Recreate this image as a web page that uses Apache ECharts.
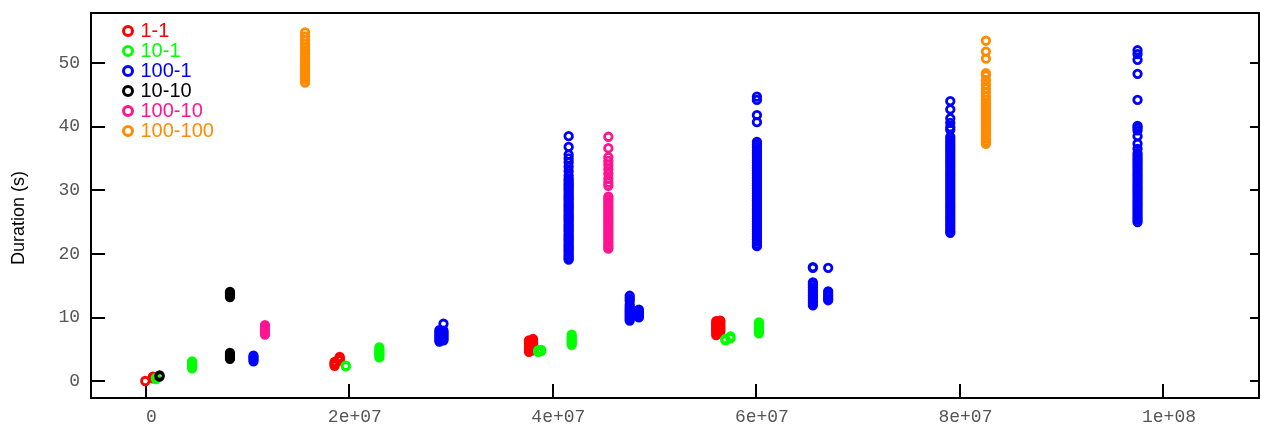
<!DOCTYPE html>
<html>
<head>
<meta charset="utf-8">
<script src="https://cdn.jsdelivr.net/npm/echarts@6/dist/echarts.min.js"></script>
<style>
  html, body { margin: 0; padding: 0; background: #fff; }
  #chart { width: 1261px; height: 432px; }
</style>
</head>
<body>
<div id="chart"></div>
<script>
// Run durations (seconds) per configuration, grouped by input size.
const seriesNames = ['1-1', '10-1', '100-1', '10-10', '100-10', '100-100'];
const seriesColors = ['#ff0000', '#00ff00', '#0000ff', '#000000', '#ff1493', '#ff8c00'];

const runs_1_1 = [
  { x: 0, y: [0.0] },
  { x: 7.5e5, y: [0.4, 0.6, 0.7] },
  { x: 1.86e7, y: [2.4, 2.6, 2.8, 3.0] },
  { x: 1.91e7, y: [3.2, 3.4, 3.6, 3.8] },
  { x: 3.77e7, y: [4.6, 4.9, 5.2, 5.5, 5.8, 6.1, 6.4] },
  { x: 3.81e7, y: [4.8, 5.1, 5.4, 5.7, 6.0, 6.3, 6.6] },
  { x: 5.61e7, y: [7.2, 7.6, 7.9, 8.2, 8.5, 8.8, 9.1, 9.4] },
  { x: 5.65e7, y: [7.8, 8.1, 8.4, 8.7, 9.0, 9.3, 9.5] }
];

const runs_10_1 = [
  { x: 1.05e6, y: [0.3, 0.5] },
  { x: 4.6e6, y: [2.0, 2.3, 2.6, 2.9, 3.1] },
  { x: 1.97e7, y: [2.3, 2.4] },
  { x: 2.3e7, y: [3.7, 4.0, 4.3, 4.6, 4.9, 5.3] },
  { x: 3.86e7, y: [4.6, 4.8] },
  { x: 3.89e7, y: [4.7, 4.9] },
  { x: 4.19e7, y: [5.7, 6.0, 6.3, 6.6, 6.9, 7.3] },
  { x: 5.7e7, y: [6.4, 6.6] },
  { x: 5.75e7, y: [6.7, 7.0] },
  { x: 6.03e7, y: [7.5, 7.8, 8.1, 8.4, 8.7, 9.0, 9.2] }
];

const runs_100_1 = [
  { x: 1.063e7, y: [3.1, 3.4, 3.7, 4.0] },
  { x: 2.89e7, y: [6.2, 6.5, 6.8, 7.1, 7.4, 7.7, 8.0] },
  { x: 2.93e7, y: [6.4, 6.7, 7.0, 7.3, 7.6, 7.9, 9.0] },
  { x: 4.16e7, y: [38.5, 36.8, 35.6, 35.0, 34.4, 33.7, 33.0, 32.3, 31.8, 31.5, 31.1, 30.8, 30.5, 30.2, 29.9, 29.5,
                   29.2, 28.9, 28.6, 28.3, 27.9, 27.6, 27.3, 27.0, 26.7, 26.3, 26.0, 25.7, 25.4, 25.1, 24.7, 24.4,
                   24.1, 23.8, 23.5, 23.1, 22.8, 22.5, 22.2, 21.9, 21.5, 21.2, 20.9, 20.6, 20.3, 19.9, 19.6, 19.3, 19.1] },
  { x: 4.76e7, y: [9.5, 9.8, 10.1, 10.4, 10.7, 11.0, 11.3, 11.6, 12.0, 12.6, 13.0, 13.4] },
  { x: 4.85e7, y: [10.0, 10.3, 10.6, 10.9, 11.2] },
  { x: 6.01e7, y: [44.7, 44.2, 41.8, 40.7, 37.6, 37.2, 36.8, 36.3, 35.9, 35.5, 35.1, 34.7, 34.3, 33.9, 33.5, 33.1,
                   32.7, 32.3, 31.9, 31.5, 31.1, 30.7, 30.3, 29.9, 29.5, 29.1, 28.7, 28.3, 27.9, 27.5, 27.1, 26.7,
                   26.3, 25.9, 25.5, 25.1, 24.7, 24.3, 23.9, 23.5, 23.1, 22.7, 22.3, 21.9, 21.5, 21.2] },
  { x: 6.56e7, y: [17.9, 17.8, 15.5, 15.1, 14.7, 14.3, 13.9, 13.5, 13.1, 12.7, 12.3, 11.9] },
  { x: 6.71e7, y: [17.8, 14.1, 13.7, 13.4, 13.0, 12.7] },
  { x: 7.91e7, y: [44.0, 42.7, 41.3, 40.6, 39.9, 39.5, 38.4, 38.0, 37.6, 37.2, 36.8, 36.4, 36.0, 35.6, 35.2, 34.8,
                   34.4, 34.0, 33.6, 33.2, 32.8, 32.4, 32.0, 31.6, 31.2, 30.8, 30.4, 30.0, 29.6, 29.2, 28.8, 28.4,
                   28.0, 27.6, 27.2, 26.8, 26.4, 26.0, 25.6, 25.2, 24.8, 24.4, 24.0, 23.6, 23.3] },
  { x: 9.75e7, y: [52.0, 51.4, 50.5, 48.3, 44.2, 40.1, 39.8, 39.4, 38.5, 37.3, 36.5, 35.8, 35.4, 35.0, 34.6, 34.2,
                   33.8, 33.4, 33.0, 32.6, 32.2, 31.8, 31.4, 31.0, 30.6, 30.2, 29.8, 29.4, 29.0, 28.6, 28.2, 27.8,
                   27.4, 27.0, 26.6, 26.2, 25.8, 25.4, 25.0] }
];

const runs_10_10 = [
  { x: 1.4e6, y: [0.7, 0.9] },
  { x: 8.32e6, y: [3.5, 3.8, 4.1, 4.4, 13.2, 13.5, 13.8, 14.0] }
];

const runs_100_10 = [
  { x: 1.176e7, y: [7.3, 7.6, 7.9, 8.2, 8.5, 8.8] },
  { x: 4.55e7, y: [38.4, 36.6, 35.2, 34.6, 34.0, 33.3, 32.6, 31.8, 31.2, 30.7, 29.0, 28.6, 28.2, 27.8, 27.4, 27.0,
                   26.6, 26.2, 25.8, 25.4, 25.0, 24.6, 24.2, 23.8, 23.4, 23.0, 22.6, 22.2, 21.8, 21.4, 21.1, 20.8] }
];

const runs_100_100 = [
  { x: 1.57e7, y: [54.8, 54.2, 53.6, 53.0, 52.5, 52.0, 51.5, 51.0, 50.6, 50.2, 49.8, 49.4, 49.0, 48.6, 48.2, 47.8,
                   47.4, 46.9] },
  { x: 8.26e7, y: [53.5, 51.8, 50.7, 48.4, 48.0, 47.3, 46.6, 46.0, 45.4, 44.8, 44.2, 43.7, 43.3, 42.9, 42.5, 42.1,
                   41.7, 41.3, 40.9, 40.5, 40.1, 39.7, 39.3, 38.9, 38.5, 38.1, 37.7, 37.3] }
];

const xTicks = [0, 2e7, 4e7, 6e7, 8e7, 1e8];
const xTickLabels = ['0', '2e+07', '4e+07', '6e+07', '8e+07', '1e+08'];
const yTicks = [0, 10, 20, 30, 40, 50];
const yTickLabels = ['0', '10', '20', '30', '40', '50'];

const allRuns = [runs_1_1, runs_10_1, runs_100_1, runs_10_10, runs_100_10, runs_100_100];

function toPoints(groups) {
  const pts = [];
  groups.forEach(g => g.y.forEach(v => pts.push([g.x, v])));
  return pts;
}

const monoFont = '"Liberation Mono", "DejaVu Sans Mono", monospace';
const sansFont = '"Liberation Sans", Arial, sans-serif';

const chart = echarts.init(document.getElementById('chart'), null, { renderer: 'canvas' });

chart.setOption({
  animation: false,
  backgroundColor: '#ffffff',
  grid: {
    left: 91, right: 2, top: 13, bottom: 34,
    show: true, borderColor: '#000', borderWidth: 2, backgroundColor: 'transparent'
  },
  legend: {
    orient: 'vertical',
    left: 122, top: 21,
    padding: 0,
    itemGap: 0,
    itemWidth: 9, itemHeight: 9,
    selectedMode: false,
    itemStyle: { borderWidth: 3 },
    textStyle: { fontFamily: sansFont, fontSize: 20, lineHeight: 19.6, padding: [0, 0, 0, 3] },
    data: seriesNames.map((n, i) => ({ name: n, textStyle: { color: seriesColors[i] } }))
  },
  xAxis: {
    type: 'value',
    min: -5.336e6, max: 1.09435e8,
    splitLine: { show: false },
    axisLine: { show: false, onZero: false },
    axisTick: { inside: true, length: 14, customValues: xTicks, lineStyle: { color: '#000', width: 2 } },
    axisLabel: {
      customValues: xTicks,
      formatter: v => xTickLabels[xTicks.indexOf(v)],
      fontFamily: monoFont, fontSize: 18, color: '#555555',
      margin: 10, padding: [0, 0, 0, 12]
    }
  },
  yAxis: [
    {
      type: 'value', position: 'left',
      min: -2.673, max: 57.86,
      splitLine: { show: false },
      axisLine: { show: false, onZero: false },
      axisTick: { inside: true, length: 14, customValues: yTicks, lineStyle: { color: '#000', width: 2 } },
      axisLabel: {
        customValues: yTicks,
        formatter: v => yTickLabels[yTicks.indexOf(v)],
        fontFamily: monoFont, fontSize: 18, color: '#555555', margin: 11
      }
    },
    {
      type: 'value', position: 'right',
      min: -2.673, max: 57.86,
      splitLine: { show: false },
      axisLine: { show: false, onZero: false },
      axisTick: { inside: true, length: 9, customValues: yTicks, lineStyle: { color: '#000', width: 2 } },
      axisLabel: { show: false }
    }
  ],
  graphic: [{
    type: 'text',
    x: 19, y: 218,
    rotation: Math.PI / 2,
    style: {
      text: 'Duration (s)', fill: '#000',
      fontFamily: sansFont, fontSize: 18,
      align: 'center', verticalAlign: 'middle'
    }
  }],
  series: allRuns.map((runs, i) => ({
    name: seriesNames[i],
    type: 'scatter',
    symbol: 'circle',
    symbolSize: 7.5,
    silent: true,
    itemStyle: { color: 'rgba(0,0,0,0)', borderColor: seriesColors[i], borderWidth: 2.8, opacity: 1 },
    emphasis: { disabled: true },
    data: toPoints(runs)
  }))
});
</script>
</body>
</html>
